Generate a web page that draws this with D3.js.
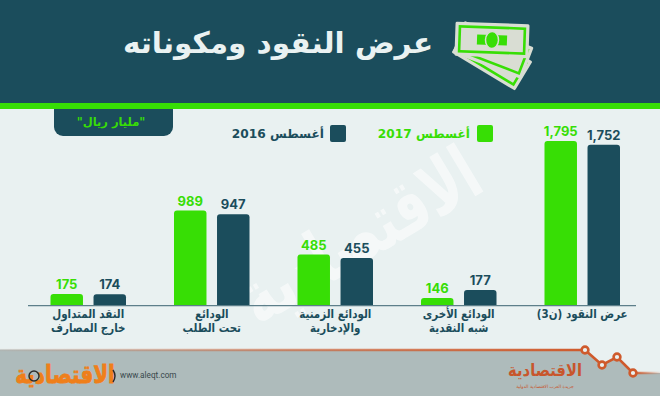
<!DOCTYPE html>
<html>
<head>
<meta charset="utf-8">
<script src="https://cdn.jsdelivr.net/npm/d3@7"></script>
<style>
html, body { margin: 0; padding: 0; background: #e9f1f1; }
svg { display: block; }
text { font-family: "DejaVu Sans", sans-serif; }
</style>
</head>
<body>
<script>
//chart values
var categories = ["النقد المتداول|خارج المصارف", "الودائع|تحت الطلب", "الودائع الزمنية|والإدخارية", "الودائع الأخرى|شبه النقدية", "عرض النقود (ن3)"];
var values2017 = [175, 989, 485, 146, 1795];
var values2016 = [174, 947, 455, 177, 1752];
var seriesNames = ["أغسطس 2017", "أغسطس 2016"];
var titleText = "عرض النقود ومكوناته";
var unitText = "\"مليار ريال\"";
var brandText = "الاقتصادية";
var brandSubText = "جريدة العرب الاقتصادية الدولية";
var urlText = "www.aleqt.com";

//the bars in the picture are not quite proportional, so the scale has a few stops
var scaleStops = [0, 146, 175, 177, 485, 989, 1795];
var scaleHeights = [0, 7.6, 11.6, 15.6, 51, 95, 164.6];

var width = 660, height = 396, baseline = 305.6;
var dark = "#1b4d5c", green = "#37de05", orange = "#cf5a2c", footerGrey = "#aebbbb", paper = "#e9f1f1";

const svg = d3.select("body").append("svg")
    .attr("width", width)
    .attr("height", height);

var defs = svg.append("defs");
var fade = defs.append("linearGradient").attr("id", "fade");
fade.append("stop").attr("offset", "0").attr("stop-color", orange).attr("stop-opacity", 0.05);
fade.append("stop").attr("offset", "0.5").attr("stop-color", orange).attr("stop-opacity", 0.6);
fade.append("stop").attr("offset", "1").attr("stop-color", orange);
var fadeRight = defs.append("linearGradient").attr("id", "fadeRight");
fadeRight.append("stop").attr("offset", "0").attr("stop-color", orange);
fadeRight.append("stop").attr("offset", "1").attr("stop-color", orange).attr("stop-opacity", 0.1);

//background, header, green stripe
svg.append("rect").attr("width", width).attr("height", height).attr("fill", paper);
svg.append("rect").attr("width", width).attr("height", 103).attr("fill", dark);
svg.append("rect").attr("y", 103).attr("width", width).attr("height", 6).attr("fill", green);

//watermark
svg.append("text")
    .attr("transform", "translate(362,240) rotate(-31) scale(0.92,1.3)")
    .attr("text-anchor", "middle")
    .attr("dominant-baseline", "middle")
    .attr("direction", "rtl")
    .attr("font-size", 58)
    .attr("font-weight", "bold")
    .attr("fill", "#ffffff")
    .attr("opacity", 0.55)
    .text(brandText);

//title
svg.append("text")
    .attr("x", 278).attr("y", 53)
    .attr("text-anchor", "middle")
    .attr("direction", "rtl")
    .attr("font-size", 29.5)
    .attr("font-weight", "bold")
    .attr("fill", "#eaf2f2")
    .text(titleText);

//money icon
var icon = svg.append("g").attr("class", "icon");
function note(parent, cx, cy, angle) {
    var g = parent.append("g").attr("transform", `translate(${cx},${cy}) rotate(${angle})`);
    g.append("rect").attr("x", -37).attr("y", -17).attr("width", 74).attr("height", 34)
        .attr("fill", "#d9ddd3").attr("rx", 1.5);
    g.append("rect").attr("x", -32.5).attr("y", -12.5).attr("width", 65).attr("height", 25)
        .attr("fill", "none").attr("stroke", green).attr("stroke-width", 2.6);
    return g;
}
note(icon, 492, 57, 31);
note(icon, 493, 50, 21);
var frontNote = note(icon, 492, 40, 2);
frontNote.append("rect").attr("x", -15).attr("y", -5).attr("width", 30).attr("height", 10).attr("fill", green);
frontNote.append("ellipse").attr("rx", 6.5).attr("ry", 8.5).attr("fill", green).attr("stroke", "#d9ddd3").attr("stroke-width", 1.5);

//unit box, rounded on the bottom only
svg.append("path")
    .attr("d", "M54,109H173V127a9,9 0 0 1 -9,9H63a9,9 0 0 1 -9,-9Z")
    .attr("fill", dark);
svg.append("text")
    .attr("x", 111).attr("y", 122)
    .attr("text-anchor", "middle")
    .attr("direction", "rtl")
    .attr("dominant-baseline", "middle")
    .attr("font-size", 11.5)
    .attr("font-weight", "bold")
    .attr("fill", green)
    .text(unitText);

//legend
var legend = [
    {name: seriesNames[0], color: green, box: 477, right: 470},
    {name: seriesNames[1], color: dark, box: 330, right: 324}
];
legend.forEach(function(d) {
    svg.append("rect").attr("x", d.box).attr("y", 125).attr("width", 16).attr("height", 17)
        .attr("rx", 2).attr("fill", d.color);
    svg.append("text")
        .attr("x", d.right).attr("y", 134)
        .attr("text-anchor", "start")
        .attr("direction", "rtl")
        .attr("dominant-baseline", "middle")
        .attr("font-size", 12.2)
        .attr("font-weight", "bold")
        .attr("fill", d.color)
        .text(d.name);
});

//scales
var x = d3.scaleBand().domain(categories).range([26.5, 644]).paddingInner(0).paddingOuter(0);
var x1 = d3.scaleBand().domain([0, 1]).range([0, 75.5]).paddingInner(0.245).paddingOuter(0);
var y = d3.scaleLinear().domain(scaleStops).range(scaleHeights.map(function(h) { return baseline - h; }));
var format = d3.format(",");

function topRounded(bx, by, w, h) {
    var r = Math.min(3, h);
    return `M${bx},${by + h}V${by + r}Q${bx},${by} ${bx + r},${by}H${bx + w - r}Q${bx + w},${by} ${bx + w},${by + r}V${by + h}Z`;
}

var bars = [];
categories.forEach(function(c, i) {
    bars.push({cat: c, s: 0, v: values2017[i], color: green});
    bars.push({cat: c, s: 1, v: values2016[i], color: dark});
});

function barX(d) {
    return x(d.cat) + (x.bandwidth() - 75.5) / 2 + x1(d.s);
}

svg.append("g").selectAll("path").data(bars).join("path")
    .attr("d", function(d) { return topRounded(barX(d), y(d.v), x1.bandwidth(), baseline - y(d.v)); })
    .attr("fill", function(d) { return d.color; });

svg.append("g").selectAll("text").data(bars).join("text")
    .attr("x", function(d) { return barX(d) + x1.bandwidth() / 2; })
    .attr("y", function(d) { return y(d.v) - 5; })
    .attr("text-anchor", "middle")
    .style("font-family", "Inter, sans-serif")
    .attr("font-size", 13)
    .attr("font-weight", "bold")
    .attr("fill", function(d) { return d.color; })
    .text(function(d) { return format(d.v); });

//baseline
svg.append("line")
    .attr("x1", 28).attr("x2", 636)
    .attr("y1", baseline).attr("y2", baseline)
    .attr("stroke", "#5d7f8a").attr("stroke-width", 1.2);

//category labels, two lines split on |
var labels = svg.append("g").selectAll("g").data(categories).join("g")
    .attr("transform", function(d) { return `translate(${x(d) + x.bandwidth() / 2},0) scale(0.86,1)`; });
labels.each(function(d) {
    var g = d3.select(this);
    d.split("|").forEach(function(line, i) {
        g.append("text")
            .attr("y", 315 + i * 14)
            .attr("text-anchor", "middle")
            .attr("direction", "rtl")
            .attr("dominant-baseline", "middle")
            .attr("font-size", 12)
            .attr("font-weight", "bold")
            .attr("fill", dark)
            .text(line);
    });
});

//footer, its top edge follows the orange trace
var tracePts = [[585, 350], [602, 365], [617, 357], [633, 373]];
var footerEdge = [[0, 349.5]].concat(tracePts, [[660, 373]]);
svg.append("path")
    .attr("d", d3.line()(footerEdge.concat([[660, height], [0, height]])) + "Z")
    .attr("fill", footerGrey);
svg.append("line").attr("x1", 0).attr("x2", 585).attr("y1", 350).attr("y2", 350.01)
    .attr("stroke", "url(#fade)").attr("stroke-width", 2.6);
svg.append("line").attr("x1", 633).attr("x2", 660).attr("y1", 373).attr("y2", 373.01)
    .attr("stroke", "url(#fadeRight)").attr("stroke-width", 2.6);
svg.append("path")
    .attr("d", d3.line()(tracePts))
    .attr("fill", "none").attr("stroke", orange).attr("stroke-width", 2.6);
svg.append("g").selectAll("circle").data(tracePts).join("circle")
    .attr("cx", function(d) { return d[0]; })
    .attr("cy", function(d) { return d[1]; })
    .attr("r", 3.4)
    .attr("fill", paper).attr("stroke", orange).attr("stroke-width", 2.6);

//right logo
svg.append("text")
    .attr("transform", "translate(545,371) scale(0.82,0.95)")
    .attr("text-anchor", "middle").attr("direction", "rtl").attr("dominant-baseline", "middle")
    .attr("font-size", 18).attr("font-weight", "bold").attr("fill", "#c8562c")
    .text(brandText);
svg.append("text")
    .attr("x", 545).attr("y", 386.5)
    .attr("text-anchor", "middle").attr("direction", "rtl").attr("dominant-baseline", "middle")
    .attr("font-size", 4.5).attr("fill", "#c8562c")
    .text(brandSubText);

//left logo with the dark marks printed over it
svg.append("text")
    .attr("transform", "translate(65,376) scale(0.83,1.05)")
    .attr("text-anchor", "middle").attr("direction", "rtl").attr("dominant-baseline", "middle")
    .attr("font-size", 24).attr("font-weight", "bold").attr("fill", "#ef7f1a")
    .attr("stroke", "#ef7f1a").attr("stroke-width", 0.8)
    .text(brandText);
svg.append("circle").attr("cx", 34).attr("cy", 376).attr("r", 5)
    .attr("fill", "none").attr("stroke", "#2b2b2b").attr("stroke-width", 1.4);
svg.append("path").attr("d", "M113,370Q117,376 113,382")
    .attr("fill", "none").attr("stroke", "#2b2b2b").attr("stroke-width", 1.4);

svg.append("text").attr("x", 120).attr("y", 376)
    .attr("dominant-baseline", "middle")
    .style("font-family", "Roboto, sans-serif")
    .attr("font-size", 8.2).attr("fill", "#38484c")
    .text(urlText);
</script>
</body>
</html>
